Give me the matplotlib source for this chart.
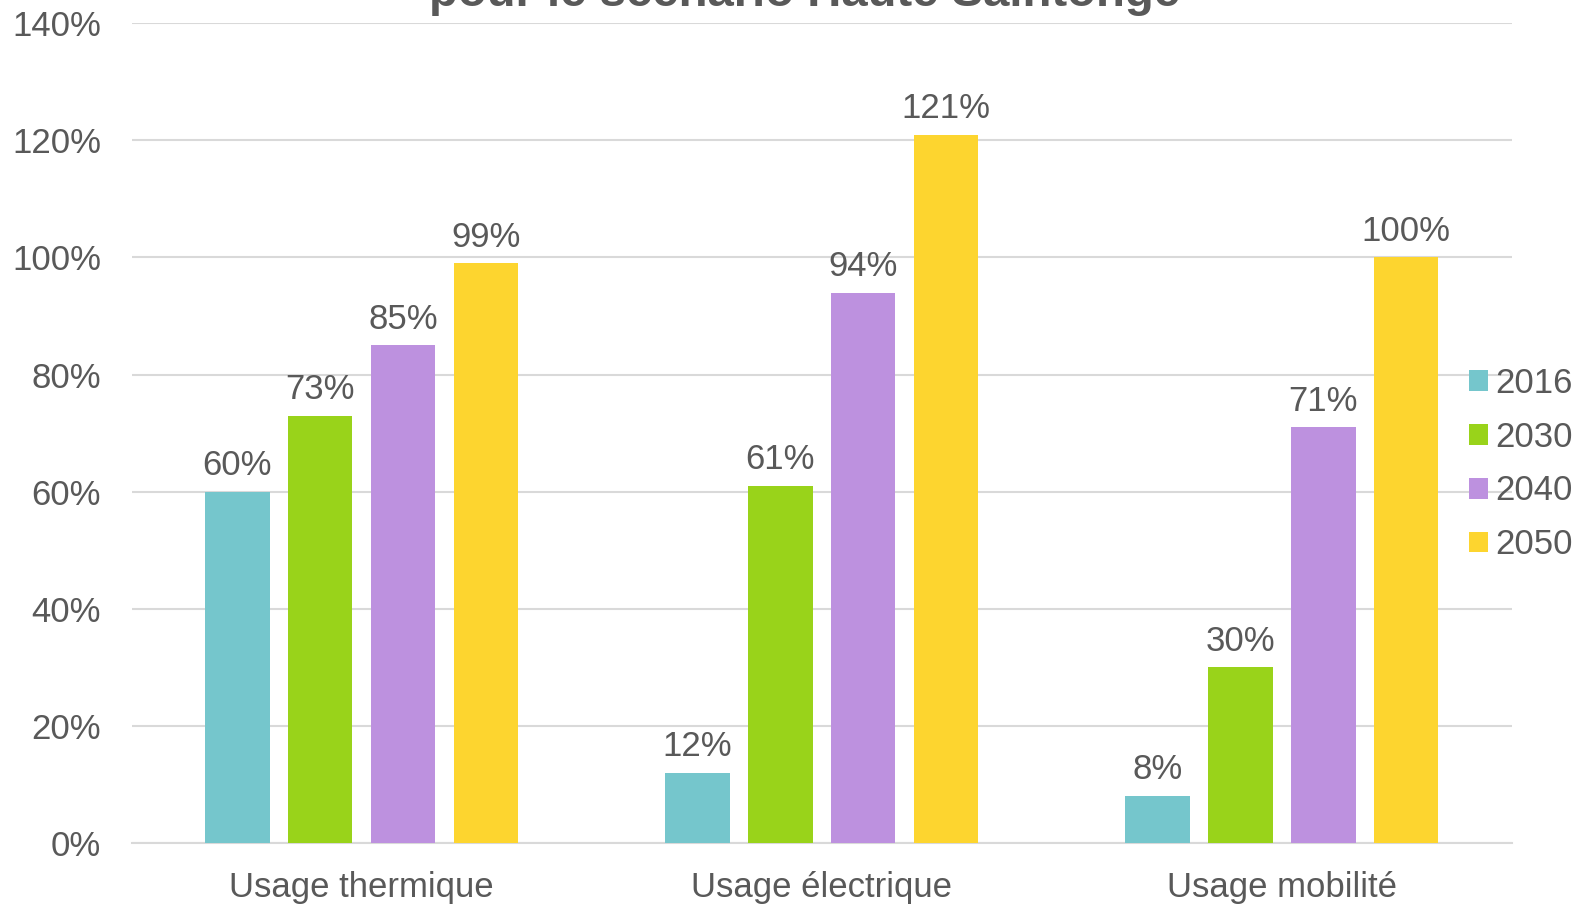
import matplotlib
matplotlib.use("Agg")
import matplotlib.pyplot as plt
import numpy as np
from matplotlib.ticker import FuncFormatter

categories = ["Usage thermique", "Usage électrique", "Usage mobilité"]
years = ["2016", "2030", "2040", "2050"]
v2016 = [60, 12, 8]
v2030 = [73, 61, 30]
v2040 = [85, 94, 71]
v2050 = [99, 121, 100]
series = [v2016, v2030, v2040, v2050]
colors = ["#75C6CC", "#99D31A", "#BD91DF", "#FDD52F"]
title = "pour le scénario Haute Saintonge"

plt.rcParams['font.family'] = ['Liberation Sans', 'DejaVu Sans']
txt = "#595959"
fs = 25

fig = plt.figure(figsize=(15.86, 9.05), dpi=100)
ax = fig.add_axes([131.5/1586, 1-843/905, (1512-131.5)/1586, (843-23.3)/905])

x = np.arange(len(categories))
bw = 0.14
step = 0.18
for i, (vals, c, y) in enumerate(zip(series, colors, years)):
    pos = x + (i - 1.5) * step
    bars = ax.bar(pos, vals, width=bw, color=c, label=y, zorder=3)
    for b, v in zip(bars, vals):
        ax.annotate(f"{v}%", (b.get_x() + b.get_width()/2, v), xytext=(0, 7),
                    textcoords="offset points", ha="center", va="bottom",
                    fontsize=fs, color=txt)

ax.set_xlim(-0.5, 2.5)
ax.set_ylim(0, 140)
ax.set_yticks(np.arange(0, 141, 20))
ax.yaxis.set_major_formatter(FuncFormatter(lambda v, p: f"{int(v)}%"))
ax.set_xticks(x)
ax.set_xticklabels(categories)
ax.tick_params(axis='both', length=0, labelsize=fs, colors=txt)
ax.tick_params(axis='y', pad=22)
ax.tick_params(axis='x', pad=20)
ax.grid(axis='y', color="#D9D9D9", linewidth=1.5, zorder=0)
for s in ["top", "right", "left"]:
    ax.spines[s].set_visible(False)
ax.spines["bottom"].set_color("#D9D9D9")
ax.spines["bottom"].set_linewidth(1.5)

leg = ax.legend(loc="center left", frameon=False, fontsize=fs, handlelength=0.55,
                handleheight=0.55, handletextpad=0.2, labelspacing=0.6, labelcolor=txt)
leg.set_bbox_to_anchor((1438/1586, 1-464/905), transform=fig.transFigure)

fig.text(805/1586, 1-6/905, title, ha="center", va="baseline", fontsize=34,
         fontweight="bold", color=txt)

fig.savefig("out.png", dpi=100)
